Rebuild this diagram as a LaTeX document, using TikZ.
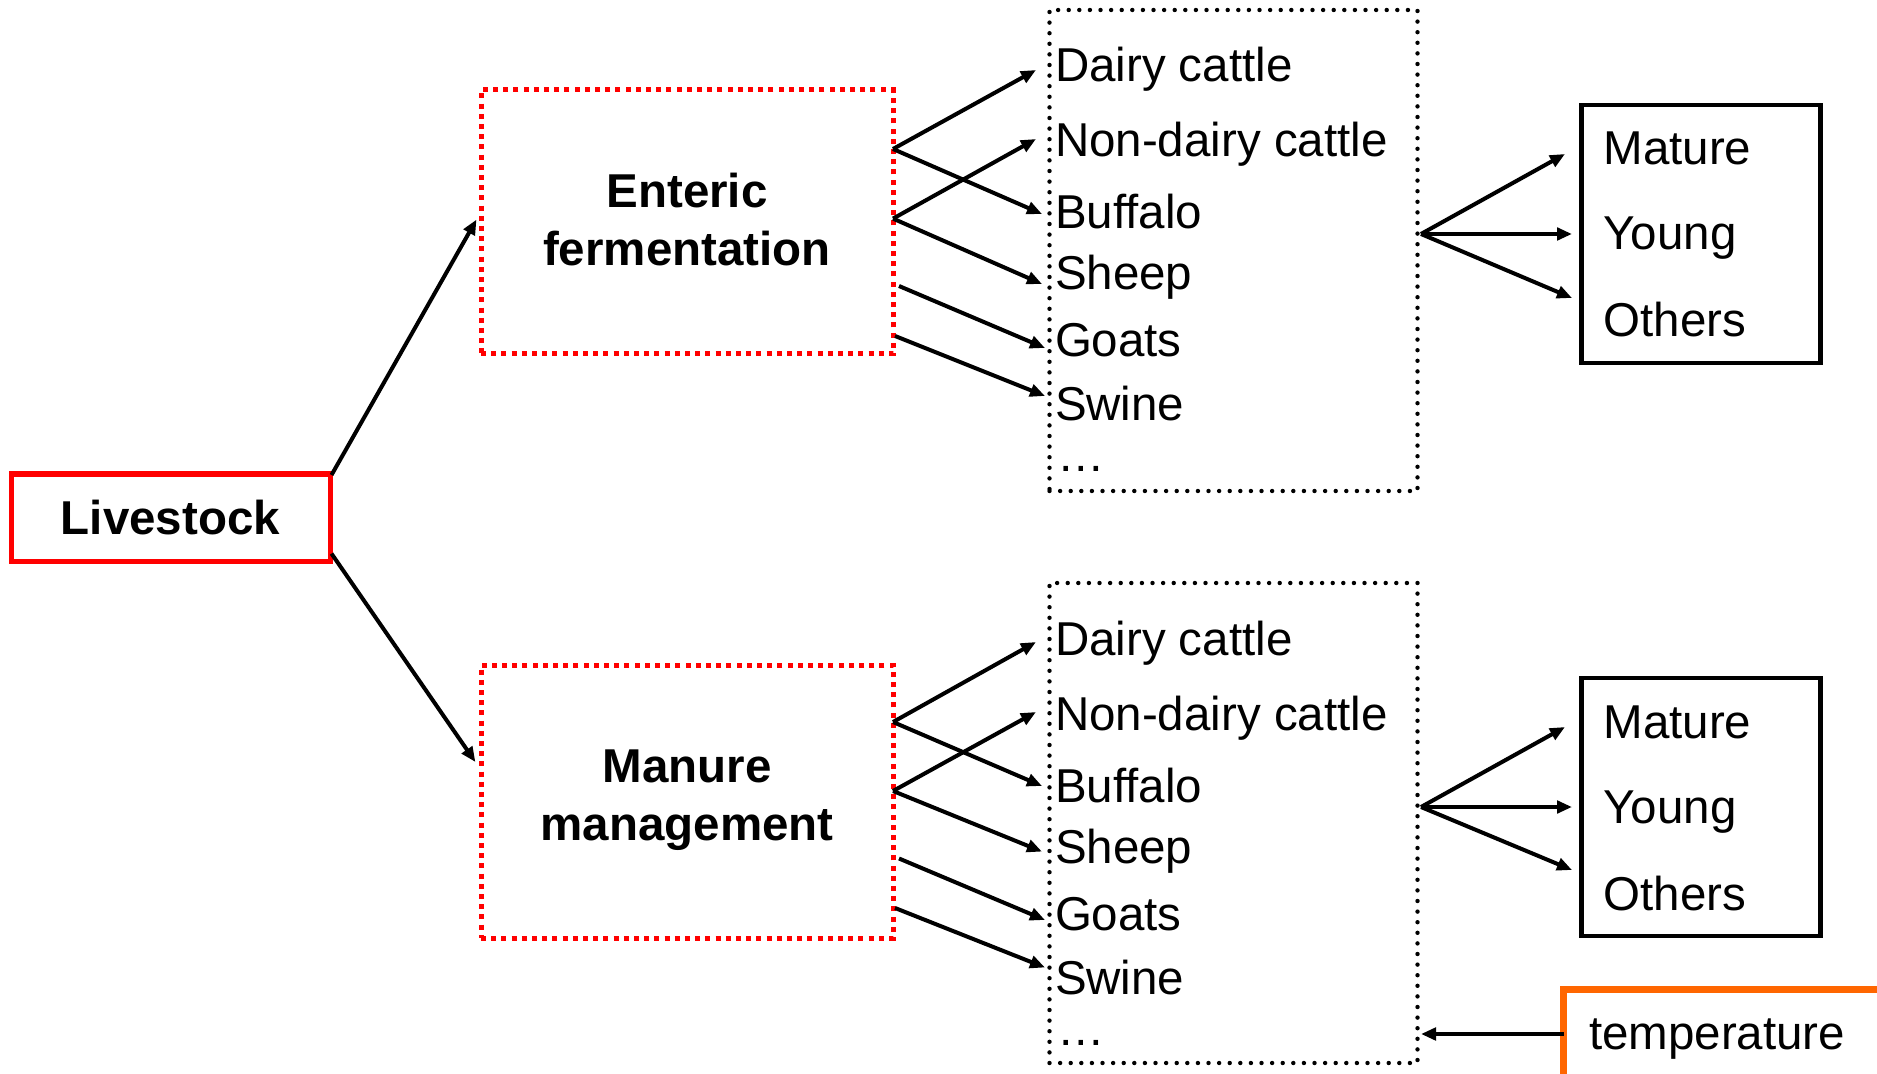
\documentclass[tikz,border=0pt]{standalone}
\usepackage{fontspec}
\setmainfont{Liberation Sans}
\usetikzlibrary{arrows.meta,calc}
\definecolor{boxred}{RGB}{255,0,0}
\definecolor{boxorange}{RGB}{255,102,0}
\begin{document}
\begin{tikzpicture}[x=0.5pt,y=-0.5pt,
  every node/.style={inner sep=0pt, outer sep=0pt},
  txt/.style={font=\fontsize{23.75}{29}\selectfont, anchor=base west},
  boldtxt/.style={font=\fontsize{23.75}{29}\selectfont\bfseries, align=center},
  redsolid/.style={draw=boxred, line width=2.5pt},
  reddot/.style={draw=boxred, line width=2.5pt, dash pattern=on 2.5pt off 2.6pt},
  blackdot/.style={draw=black, line width=2.2pt, line cap=round, dash pattern=on 0pt off 5.3pt},
  agebox/.style={draw=black, line width=2.2pt},
  tempbox/.style={draw=boxorange, line width=3.5pt},
  arr/.style={line width=2pt, -{Triangle[length=7.5pt,width=6.2pt]}},
]
\useasboundingbox (0,0) rectangle (1877,1074);

% boxes
\node[redsolid, boldtxt, minimum width=159.5pt, minimum height=43.5pt] (live) at (170.5,517.5) {Livestock};
\node[reddot, boldtxt, minimum width=206pt, minimum height=132pt] (ent) at (687,222) {Enteric\\fermentation\rule[-2.4pt]{0pt}{0pt}};
\node[reddot, boldtxt, minimum width=206pt, minimum height=136.5pt] (man) at (687,801.5) {Manure\\management\rule[-6pt]{0pt}{0pt}};
\node[blackdot, minimum width=184pt, minimum height=240.5pt] (list1) at (1233.5,250.5) {};
\node[blackdot, minimum width=184pt, minimum height=240pt] (list2) at (1233.5,823) {};
\node[agebox, minimum width=119.5pt, minimum height=129pt] (age1) at (1701,234) {};
\node[agebox, minimum width=119.5pt, minimum height=129pt] (age2) at (1701,807) {};
\node[tempbox, minimum width=178.25pt, minimum height=60.5pt] (temp) at (1741.75,1049.5) {};

% list texts (top)
\node[txt] (a1) at (1055,82) {Dairy cattle};
\node[txt] (a2) at (1055,157) {Non-dairy cattle};
\node[txt] (a3) at (1055,229) {Buffalo};
\node[txt] (a4) at (1055,290) {Sheep};
\node[txt] (a5) at (1055,357) {Goats};
\node[txt] (a6) at (1055,421) {Swine};
\node[txt] (a7) at (1057,472) {\char"2026};
% list texts (bottom)
\node[txt] (b1) at (1055,655) {Dairy cattle};
\node[txt] (b2) at (1055,730) {Non-dairy cattle};
\node[txt] (b3) at (1055,802) {Buffalo};
\node[txt] (b4) at (1055,863) {Sheep};
\node[txt] (b5) at (1055,930) {Goats};
\node[txt] (b6) at (1055,994) {Swine};
\node[txt] (b7) at (1057,1045) {\char"2026};
% age texts
\node[txt] (m1) at (1603.5,165) {Mature};
\node[txt] (y1) at (1603.5,250) {Young};
\node[txt] (o1) at (1603.5,337) {Others};
\node[txt] (m2) at (1603.5,738) {Mature};
\node[txt] (y2) at (1603.5,823) {Young};
\node[txt] (o2) at (1603.5,910) {Others};
\node[txt] (tt) at (1589,1049) {temperature};

% connector end points
\coordinate (lvA) at (331.5,475);
\coordinate (lvB) at (331.5,553.6);
\coordinate (entIn) at (476.5,219.6);
\coordinate (manIn) at (475.4,762);

\coordinate (eA) at (893,149);
\coordinate (eB) at (893,218.6);
\coordinate (eC) at (899,286);
\coordinate (eD) at (895,336);
\coordinate (ta1) at (1036,70);
\coordinate (ta2) at (1036,139);
\coordinate (ta3) at (1042,214);
\coordinate (ta4) at (1042,284);
\coordinate (ta5) at (1045,348);
\coordinate (ta6) at (1045,396);

\coordinate (mA) at (893,722);
\coordinate (mB) at (893,791);
\coordinate (mC) at (899,858.5);
\coordinate (mD) at (895,908);
\coordinate (tb1) at (1036,642);
\coordinate (tb2) at (1036,712);
\coordinate (tb3) at (1042,786);
\coordinate (tb4) at (1042,851.6);
\coordinate (tb5) at (1045,920);
\coordinate (tb6) at (1045,967.5);

\coordinate (l1out) at (1421,234);
\coordinate (g1m) at (1565,154);
\coordinate (g1y) at (1572,234);
\coordinate (g1o) at (1572,298);
\coordinate (l2out) at (1421,807);
\coordinate (g2m) at (1565,727);
\coordinate (g2y) at (1572,807);
\coordinate (g2o) at (1572,870);

\coordinate (tempOut) at (1563.5,1034);
\coordinate (l2in) at (1421,1034);

% connectors
\draw[arr] (lvA) -- (entIn);
\draw[arr] (lvB) -- (manIn);

\draw[arr] (eA) -- (ta1);
\draw[arr] (eA) -- (ta3);
\draw[arr] (eB) -- (ta2);
\draw[arr] (eB) -- (ta4);
\draw[arr] (eC) -- (ta5);
\draw[arr] (eD) -- (ta6);

\draw[arr] (mA) -- (tb1);
\draw[arr] (mA) -- (tb3);
\draw[arr] (mB) -- (tb2);
\draw[arr] (mB) -- (tb4);
\draw[arr] (mC) -- (tb5);
\draw[arr] (mD) -- (tb6);

\draw[arr] (l1out) -- (g1m);
\draw[arr] (l1out) -- (g1y);
\draw[arr] (l1out) -- (g1o);
\draw[arr] (l2out) -- (g2m);
\draw[arr] (l2out) -- (g2y);
\draw[arr] (l2out) -- (g2o);

\draw[arr] (tempOut) -- (l2in);
\end{tikzpicture}
\end{document}
